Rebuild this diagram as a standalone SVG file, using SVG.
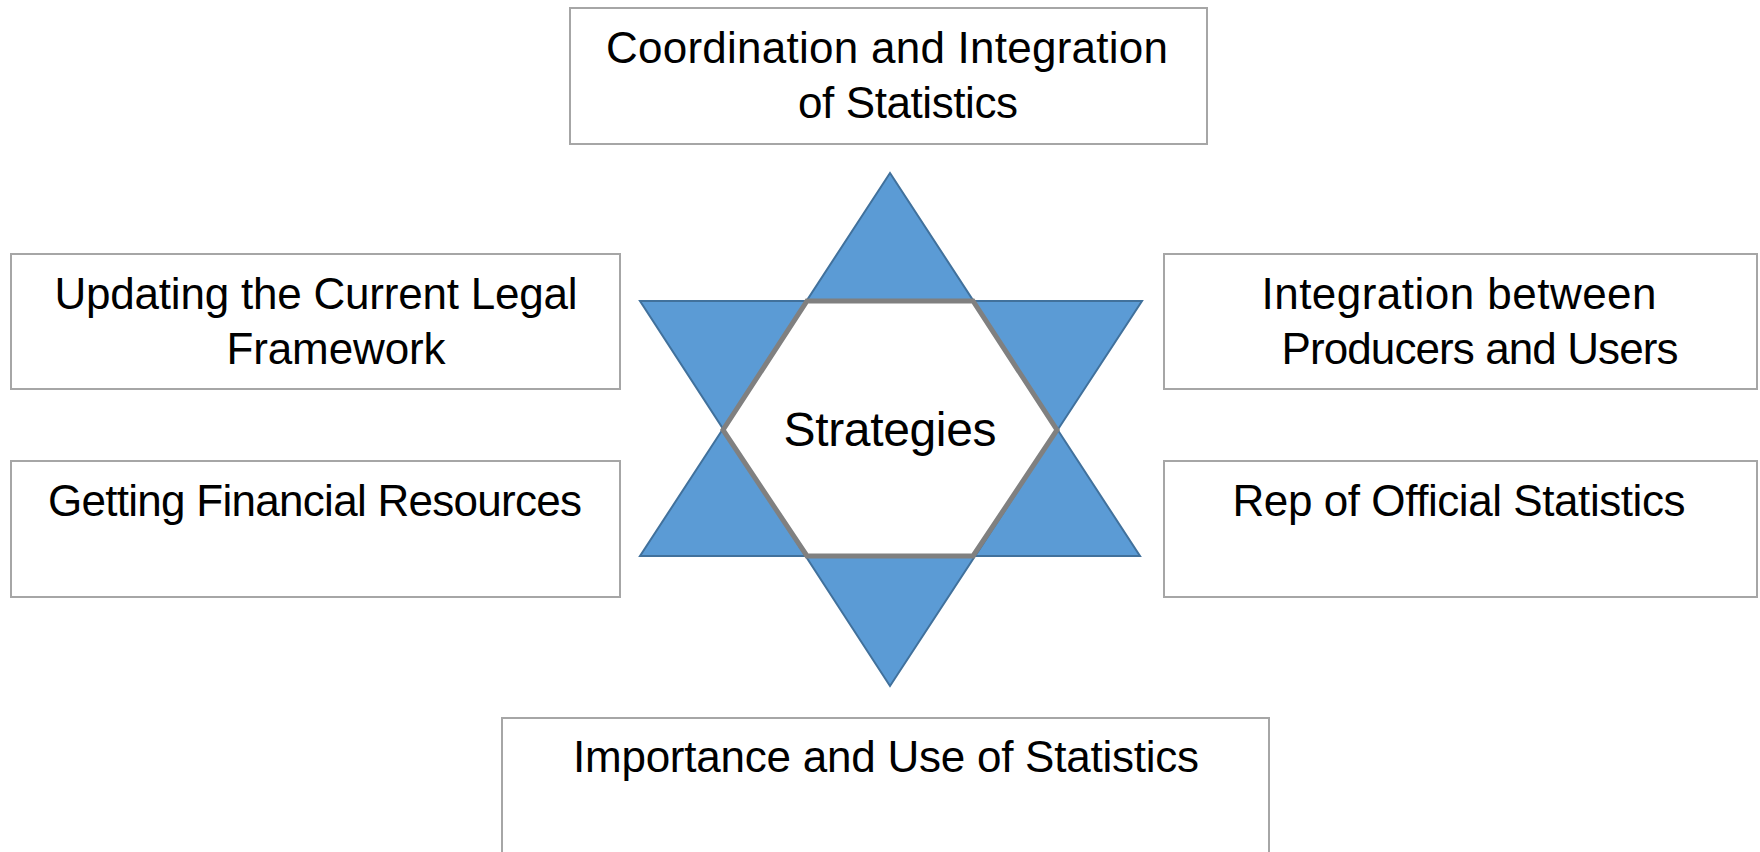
<svg xmlns="http://www.w3.org/2000/svg" width="1760" height="852" viewBox="0 0 1760 852">
<style>
.box{fill:#fff;stroke:#a6a6a6;stroke-width:2}
.t{font-family:"Liberation Sans",Arial,sans-serif;font-size:44px;fill:#000;text-anchor:middle}
.tri{fill:#5b9bd5;stroke:#41719c;stroke-width:2;stroke-linejoin:miter}
.hex{fill:#fff;stroke:#808080;stroke-width:5;stroke-linejoin:miter}
</style>
<rect width="1760" height="852" fill="#fff"/>
<g id="star">
<polygon class="tri" points="890,173 1140,556 640,556"/>
<polygon class="tri" points="640,301 1142,301 890,686"/>
<polygon class="hex" points="807,301 973,301 1057,430 973,556 807,556 723,430"/>
<text class="t" x="890" y="446" style="font-size:48px" textLength="213">Strategies</text>
</g>
<g id="n-top">
<rect class="box" x="570" y="8" width="637" height="136"/>
<text class="t" x="887" y="63" textLength="562">Coordination and Integration</text>
<text class="t" x="908" y="118" textLength="220">of Statistics</text>
</g>
<g id="n-left-top">
<rect class="box" x="11" y="254" width="609" height="135"/>
<text class="t" x="316" y="309" textLength="523">Updating the Current Legal</text>
<text class="t" x="336" y="364" textLength="219">Framework</text>
</g>
<g id="n-left-bottom">
<rect class="box" x="11" y="461" width="609" height="136"/>
<text class="t" x="315" y="516" textLength="534">Getting Financial Resources</text>
</g>
<g id="n-right-top">
<rect class="box" x="1164" y="254" width="593" height="135"/>
<text class="t" x="1459" y="309" textLength="395">Integration between</text>
<text class="t" x="1480" y="364" textLength="397">Producers and Users</text>
</g>
<g id="n-right-bottom">
<rect class="box" x="1164" y="461" width="593" height="136"/>
<text class="t" x="1459" y="516" textLength="453">Rep of Official Statistics</text>
</g>
<g id="n-bottom">
<rect class="box" x="502" y="718" width="767" height="150"/>
<text class="t" x="886" y="772" textLength="626">Importance and Use of Statistics</text>
</g>
<g id="connectors"></g>
</svg>
